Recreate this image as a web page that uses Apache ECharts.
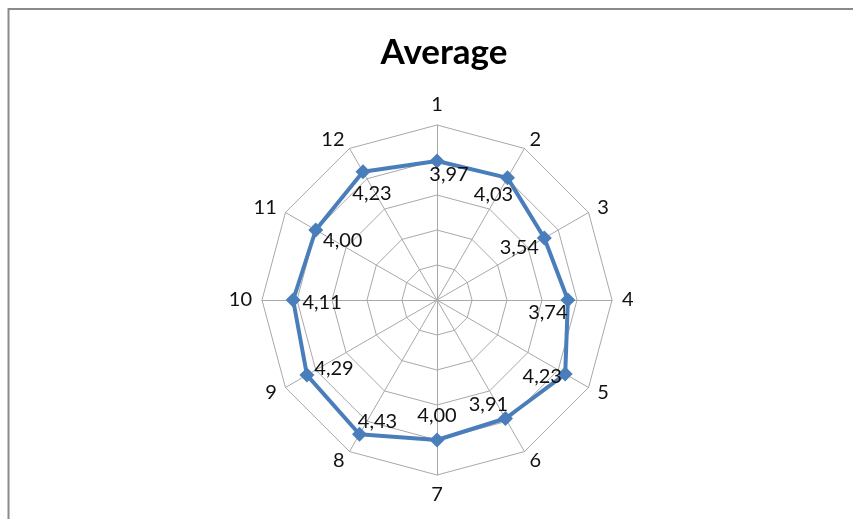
<!DOCTYPE html>
<html>
<head>
<meta charset="utf-8">
<script src="https://cdn.jsdelivr.net/npm/echarts@6/dist/echarts.min.js"></script>
<style>
  html, body { margin: 0; padding: 0; background: #fff; }
  #chart { width: 853px; height: 519px; }
</style>
</head>
<body>
<div id="chart"></div>
<script>
// Spoke names and the average score on each spoke
const categories = ['1', '2', '3', '4', '5', '6', '7', '8', '9', '10', '11', '12'];
const averages = [3.97, 4.03, 3.54, 3.74, 4.23, 3.91, 4.00, 4.43, 4.29, 4.11, 4.00, 4.23];
const scaleMin = 0;
const scaleMax = 5;
const chartTitle = 'Average';

// Where each value label sits relative to its marker (px)
const labelShift = [
  [12, 13], [-14, 17], [-25, 9], [-20, 13], [-23, 3], [-17, -14],
  [0, -24], [18, -13], [27, -7], [29, 3], [27, 11], [9, 22]
];

const BLUE = '#4a7ebb';
const GRID = '#a9a9a9';
const FONT = 'Lato, "Open Sans", sans-serif';

// ECharts lays indicators out counter-clockwise; reorder so spokes run clockwise from the top
const order = categories.map((_, i) => (categories.length - i) % categories.length);
const indicators = order.map(i => ({ name: categories[i], min: scaleMin, max: scaleMax }));
const orderedValues = order.map(i => averages[i]);

const fmt = v => Number(v).toFixed(2).replace('.', ',');

const series = [{
  type: 'radar',
  silent: true,
  z: 3,
  symbol: 'diamond',
  symbolSize: 15,
  lineStyle: { color: BLUE, width: 4 },
  itemStyle: { color: BLUE },
  data: [{ value: orderedValues }]
}];

// One transparent copy per spoke carries that spoke's value label
order.forEach((srcIdx, dimIdx) => {
  series.push({
    type: 'radar',
    silent: true,
    z: 4,
    symbol: 'circle',
    symbolSize: 1,
    lineStyle: { opacity: 0, width: 0 },
    itemStyle: { color: 'rgba(0,0,0,0)' },
    label: {
      show: true,
      position: 'inside',
      offset: labelShift[srcIdx],
      color: '#111',
      fontSize: 20,
      fontFamily: FONT,
      formatter: p => (p.dimensionIndex === dimIdx ? fmt(p.value) : '')
    },
    data: [{ value: orderedValues }]
  });
});

const chart = echarts.init(document.getElementById('chart'), null, { renderer: 'canvas' });
chart.setOption({
  backgroundColor: '#fff',
  animation: false,
  title: {
    text: chartTitle,
    left: 439,
    textAlign: 'center',
    top: 30,
    textStyle: { fontFamily: FONT, fontWeight: 'bold', fontSize: 35, color: '#000' }
  },
  graphic: [{
    type: 'rect',
    silent: true,
    shape: { x: 8.5, y: 9, width: 1000, height: 1000 },
    style: { fill: 'none', stroke: '#8a8a8a', lineWidth: 2 }
  }],
  radar: {
    center: [437, 300],
    radius: 175,
    startAngle: 90,
    shape: 'polygon',
    splitNumber: 5,
    nameGap: 10,
    indicator: indicators,
    axisName: { color: '#111', fontSize: 20, fontFamily: FONT },
    axisLine: { lineStyle: { color: GRID, width: 1 } },
    splitLine: { lineStyle: { color: GRID, width: 1 } },
    splitArea: { show: false },
    axisTick: { show: false },
    axisLabel: { show: false }
  },
  series: series
});
</script>
</body>
</html>
